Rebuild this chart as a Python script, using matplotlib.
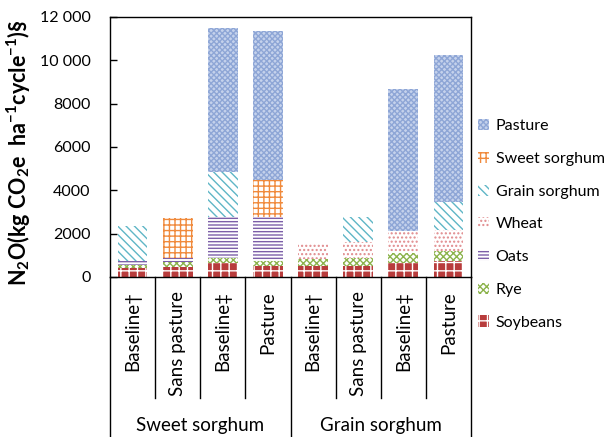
import matplotlib
matplotlib.use('Agg')
import matplotlib.pyplot as plt
import numpy as np

plt.rcParams['font.family'] = ['Lato', 'DejaVu Sans']
plt.rcParams['mathtext.fontset'] = 'custom'
plt.rcParams['mathtext.rm'] = 'Lato'
plt.rcParams['mathtext.bf'] = 'Lato:bold'
plt.rcParams['mathtext.default'] = 'bf'
plt.rcParams['hatch.linewidth'] = 1.0

# data
categories = ['Baseline†', 'Sans pasture', 'Baseline‡', 'Pasture',
              'Baseline†', 'Sans pasture', 'Baseline‡', 'Pasture']
groups = ['Sweet sorghum', 'Grain sorghum']
soybeans = [420, 440, 650, 520, 490, 490, 650, 720]
rye = [130, 250, 210, 220, 340, 390, 460, 460]
oats = [170, 200, 1920, 2045, 0, 0, 0, 0]
wheat = [0, 0, 0, 0, 690, 720, 1000, 1000]
grain_sorghum = [1650, 0, 2050, 0, 0, 1150, 0, 1280]
sweet_sorghum = [0, 1850, 0, 1710, 0, 0, 0, 0]
pasture = [0, 0, 6640, 6860, 0, 0, 6570, 6800]
yticks = [0, 2000, 4000, 6000, 8000, 10000, 12000]
ytick_labels = ['0', '2000', '4000', '6000', '8000', '10 000', '12 000']

series = [
    ('Soybeans', soybeans, '#b83c3c', '++', 'white'),
    ('Rye', rye, 'white', 'xxxxx', '#8cb34c'),
    ('Oats', oats, 'white', '-----', '#7c5fa8'),
    ('Wheat', wheat, 'white', '....', '#e08a8c'),
    ('Grain sorghum', grain_sorghum, 'white', '\\\\\\\\', '#5fb6c6'),
    ('Sweet sorghum', sweet_sorghum, 'white', '+++', '#f08a3c'),
    ('Pasture', pasture, '#c5d2ec', 'xxxxxx', '#8ea6d6'),
]

fig = plt.figure(figsize=(6.09, 4.37), dpi=100)
ax = fig.add_axes([110/609, 1 - 277/437, 361/609, 260/437])

x = np.arange(len(categories))
bottom = np.zeros(len(categories))
handles = []
for name, vals, fc, hatch, hc in series:
    vals = np.array(vals, dtype=float)
    b = ax.bar(x, vals, 0.66, bottom=bottom, color=fc, edgecolor=hc,
               hatch=hatch, linewidth=0, label=name)
    handles.append(b)
    bottom += vals

ax.set_xlim(-0.5, len(categories) - 0.5)
ax.set_ylim(0, 12000)
ax.set_yticks(yticks)
ax.set_yticklabels(ytick_labels, fontsize=11.5)
ax.tick_params(axis='y', direction='in', length=5, width=1, pad=14)
ax.set_xticks([])
for s in ax.spines.values():
    s.set_linewidth(1)

trans = ax.get_xaxis_transform()
for i, c in enumerate(categories):
    ax.text(i, -0.055, c, rotation=90, ha='center', va='top',
            fontsize=13.5, transform=trans)
for k in range(1, len(categories)):
    if k == 4:
        continue
    ax.plot([k - 0.5, k - 0.5], [0, -121/260], color='black', lw=1,
            transform=trans, clip_on=False)
for k in [0, 4, 8]:
    ax.plot([k - 0.5, k - 0.5], [0, -165/260], color='black', lw=1,
            transform=trans, clip_on=False)
for g, name in enumerate(groups):
    ax.text(g * 4 + 1.5, -148/260, name, ha='center', va='center',
            fontsize=13.5, transform=trans)

fig.text(19/609, 1 - 153/437,
         r'N$_2$O(kg CO$_2$e  ha$^{-1}$cycle$^{-1}$)§',
         rotation=90, ha='center', va='center', fontsize=15.5,
         fontweight='bold')

fig.legend(handles[::-1], [h.get_label() for h in handles[::-1]],
           loc='upper left', bbox_to_anchor=(467/609, 1 - 108/437),
           frameon=False, fontsize=11.5, handlelength=0.7, handleheight=0.7,
           handletextpad=0.4, labelspacing=1.16, borderpad=0.2)

fig.savefig('out.png', dpi=100)
